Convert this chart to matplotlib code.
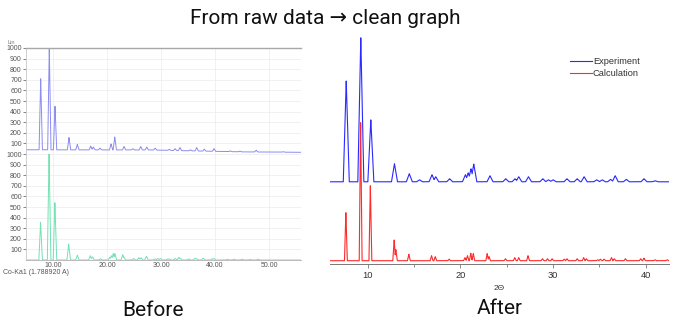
import numpy as np
import matplotlib
matplotlib.use("Agg")
import matplotlib.pyplot as plt
from matplotlib.ticker import MultipleLocator

# ---- data ----
# "Before": raw instrument screenshot, measured pattern (counts)
raw_pos = [7.72, 9.31, 10.37, 12.96, 14.5, 16.98, 17.46, 18.7, 20.74, 21.43,
           23.15, 24.8, 26.24, 27.35, 28.9, 31.5, 32.6, 33.5, 35.4, 36.6,
           38.0, 39.8, 42.8, 44.6, 47.6, 52.6]
raw_top = [710, 1000, 450, 155, 90, 75, 65, 55, 95, 160,
           70, 50, 70, 65, 55, 45, 50, 60, 40, 60,
           45, 50, 30, 28, 35, 22]
raw_bg_x = [5.0, 28.0, 35.0, 45.0, 55.9]
raw_bg_y = [40, 38, 30, 20, 16]

# "Before": reference pattern (counts)
ref_pos = [7.7, 9.27, 10.35, 12.9, 14.5, 16.9, 17.3, 18.8, 20.5, 20.8,
           21.15, 21.45, 22.9, 23.1, 24.9, 25.9, 26.3, 27.3, 28.9, 29.4,
           29.9, 31.2, 31.5, 32.6, 33.3, 33.6, 35.1, 36.3, 36.6, 37.8,
           39.45, 39.8, 42.3, 43.5, 45.0, 46.5, 48.0]
ref_top = [355, 1000, 540, 150, 45, 40, 30, 12, 25, 40,
           60, 60, 50, 30, 15, 22, 20, 35, 12, 15,
           15, 10, 12, 15, 25, 15, 12, 18, 12, 18,
           12, 15, 8, 8, 8, 6, 8]

# "After": experiment, relative intensity (%)
exp_pos = [7.7, 9.27, 10.35, 12.9, 14.5, 15.6, 16.95, 17.35, 18.85, 20.55,
           20.85, 21.15, 21.45, 23.2, 24.9, 25.9, 26.3, 27.35, 28.9, 29.5,
           30.0, 31.5, 32.6, 33.35, 34.7, 35.3, 36.2, 36.7, 37.9, 39.8, 41.0]
exp_int = [70, 100, 43, 12.5, 5.6, 1.4, 4.9, 3.5, 2.1, 4.9,
           6.2, 9.0, 12.3, 4.2, 2.1, 2.1, 3.5, 3.5, 2.1, 1.4,
           1.4, 2.1, 2.1, 3.5, 1.4, 1.4, 1.7, 4.2, 1.7, 2.1, 0.7]

# "After": calculation, relative intensity (%)
calc_pos = [7.66, 9.25, 10.3, 12.87, 13.05, 14.45, 16.9, 17.3, 18.8, 20.5,
            20.77, 21.13, 21.4, 22.9, 23.1, 24.87, 25.87, 26.3, 27.3, 28.86,
            29.4, 29.9, 31.2, 31.5, 32.6, 33.3, 33.6, 34.8, 35.1, 35.5,
            36.3, 36.6, 37.8, 39.45, 39.8, 41.0, 42.3]
calc_int = [34.8, 100, 54.3, 15, 8, 4.6, 3.6, 2.9, 1.1, 2.2,
            3.6, 5.4, 5.1, 5.1, 2.9, 1.4, 2.2, 2.2, 3.6, 1.4,
            1.4, 1.4, 1.1, 1.4, 1.4, 2.2, 1.4, 0.7, 1.1, 1.1,
            2.2, 1.4, 1.4, 1.4, 1.8, 0.7, 0.7]


def peaks(x, pos, top, base, w):
    # sharp triangular peak on top of the baseline
    y = np.zeros_like(x) + base
    for p, t in zip(pos, top):
        y = np.maximum(y, base + (t - base) * np.clip(1 - np.abs(x - p) / w, 0, None))
    return y


W, H = 680, 325
fig = plt.figure(figsize=(6.8, 3.25), dpi=100)
plt.rcParams['font.family'] = ['Liberation Sans', 'DejaVu Sans']

def box(l, t, r, b):
    return [l / W, 1 - b / H, (r - l) / W, (b - t) / H]

big = ['Roboto', 'DejaVu Sans']
fig.text(325 / W, 1 - 24 / H, "From raw data \u2192 clean graph", ha='center',
         va='baseline', fontsize=15, family=big, color='#111111')
fig.text(152.5 / W, 1 - 315.7 / H, "Before", ha='center', va='baseline',
         fontsize=15, family=big, color='#111111')
fig.text(500 / W, 1 - 314 / H, "After", ha='center', va='baseline',
         fontsize=15, family=big, color='#111111')

# ---- Before ----
xb = np.arange(5.0, 55.9, 0.01)
ax1 = fig.add_axes(box(26, 48, 301, 154))
ax2 = fig.add_axes(box(26, 154, 301, 260))
bg = np.interp(xb, raw_bg_x, raw_bg_y)
ax1.plot(xb, peaks(xb, raw_pos, raw_top, bg, 0.3), color='#8c8cf0', lw=0.7)
ax2.plot(xb, peaks(xb, ref_pos, ref_top, 0, 0.32), color='#72e2b4', lw=0.7)
for a in (ax1, ax2):
    a.set_xlim(5.0, 55.9)
    a.set_ylim(0, 1000)
    a.set_yticks(range(100, 1001, 100))
    a.set_xticks([10, 20, 30, 40, 50])
    a.grid(True, color='#ececec', lw=0.5)
    a.set_axisbelow(True)
    a.tick_params(axis='y', labelsize=5, colors='#555555', length=2, width=0.5, pad=1)
    a.tick_params(axis='x', labelsize=5, colors='#555555', length=0, pad=1.5)
    for s in a.spines.values():
        s.set_visible(False)
    a.spines['left'].set_visible(True)
    a.spines['left'].set_color('#c8c8c8')
    a.spines['left'].set_linewidth(0.6)
ax1.spines['top'].set_visible(True)
ax1.spines['top'].set_color('#a8a8a8')
ax1.spines['top'].set_linewidth(1.0)
ax1.tick_params(axis='x', labelbottom=False)
ax2.spines['bottom'].set_visible(True)
ax2.spines['bottom'].set_color('#b0b0b0')
ax2.spines['bottom'].set_linewidth(0.6)
ax2.set_xticklabels(["10.00", "20.00", "30.00", "40.00", "50.00"])
fig.text(3 / W, 1 - 268.5 / H, "Co-Ka1 (1.788920 A)", fontsize=5, color='#555555',
         va='top')
fig.text(8 / W, 1 - 44 / H, "Lin", fontsize=4, color='#777777')

# ---- After ----
xa = np.arange(5.95, 42.5, 0.005)
ax = fig.add_axes(box(330, 35, 669, 264.3))
ax.plot(xa, 57.2 + 1.0435 * peaks(xa, exp_pos, exp_int, 0, 0.32),
        color='#2a2aff', lw=0.8, label='Experiment')
ax.plot(xa, peaks(xa, calc_pos, calc_int, 0, 0.15),
        color='#ff2a2a', lw=0.8, label='Calculation')
ax.set_xlim(5.95, 42.5)
ax.set_ylim(-2.61, 163.6)
ax.xaxis.set_major_locator(MultipleLocator(10))
ax.xaxis.set_minor_locator(MultipleLocator(5))
ax.set_yticks([])
for s in ('left', 'right', 'top'):
    ax.spines[s].set_visible(False)
ax.spines['bottom'].set_color('#777777')
ax.spines['bottom'].set_linewidth(0.7)
ax.tick_params(axis='x', which='major', labelsize=6.7, colors='#777777',
               labelcolor='#333333', length=3, width=0.6, pad=1.5)
ax.tick_params(axis='x', which='minor', colors='#777777', length=2, width=0.6)
ax.set_xlabel("2\u0398", fontsize=6, color='#333333', labelpad=4)
ax.legend(loc='upper left', bbox_to_anchor=(570 / W, 1 - 57 / H),
          bbox_transform=fig.transFigure, frameon=False, fontsize=6.7,
          handlelength=2.4, handletextpad=0.05, borderpad=0, borderaxespad=0,
          labelspacing=0.3, labelcolor='#333333')

fig.savefig("out.png", dpi=100)
